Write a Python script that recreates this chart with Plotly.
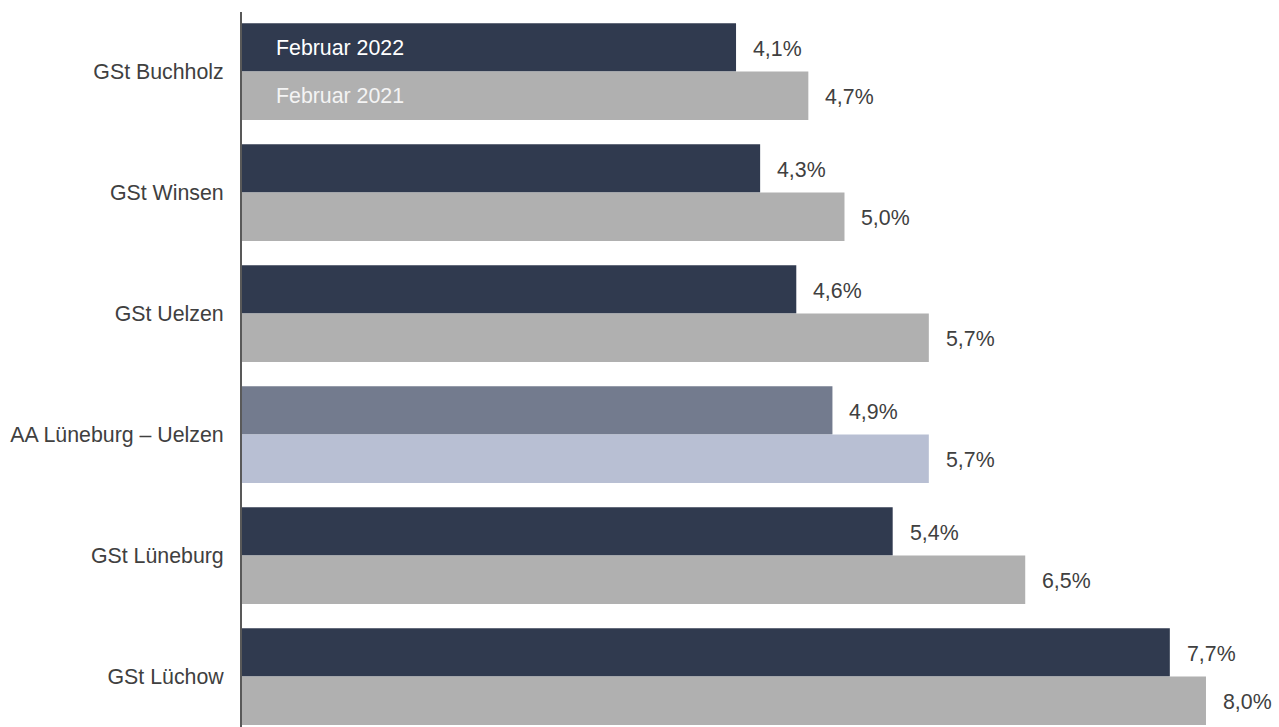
import plotly.graph_objects as go

categories = ["GSt Buchholz", "GSt Winsen", "GSt Uelzen", "AA Lüneburg – Uelzen", "GSt Lüneburg", "GSt Lüchow"]
values_2022 = [4.1, 4.3, 4.6, 4.9, 5.4, 7.7]
values_2021 = [4.7, 5.0, 5.7, 5.7, 6.5, 8.0]
series_names = ["Februar 2022", "Februar 2021"]
highlight = "AA Lüneburg – Uelzen"

DARK = "#303a4f"
GRAY = "#b0b0b0"
DARK_HL = "#737b8e"
LIGHT_HL = "#b8bfd3"
TXT = "#404040"
FONT = "Liberation Sans, Arial, sans-serif"
FS = 21.33

def fmt(v):
    return f"{v:.1f}".replace(".", ",") + "%"

c22 = [DARK_HL if c == highlight else DARK for c in categories]
c21 = [LIGHT_HL if c == highlight else GRAY for c in categories]

fig = go.Figure()
fig.add_trace(go.Bar(y=categories, x=values_2022, orientation="h", name=series_names[0],
                     marker=dict(color=c22, line=dict(width=0)), width=0.4, offset=0,
                     hoverinfo="skip"))
fig.add_trace(go.Bar(y=categories, x=values_2021, orientation="h", name=series_names[1],
                     marker=dict(color=c21, line=dict(width=0)), width=0.4, offset=-0.4,
                     hoverinfo="skip"))

ann = []
for c, v22, v21 in zip(categories, values_2022, values_2021):
    ann.append(dict(x=v22, y=c, xref="x", yref="y", text=fmt(v22), showarrow=False,
                    xanchor="left", yanchor="middle", xshift=15, yshift=23,
                    font=dict(family=FONT, size=FS, color=TXT)))
    ann.append(dict(x=v21, y=c, xref="x", yref="y", text=fmt(v21), showarrow=False,
                    xanchor="left", yanchor="middle", xshift=15, yshift=-25,
                    font=dict(family=FONT, size=FS, color=TXT)))
ann.append(dict(x=0, y=categories[0], xref="x", yref="y", text=series_names[0], showarrow=False,
                xanchor="left", yanchor="middle", xshift=32, yshift=24,
                font=dict(family=FONT, size=FS, color="#ffffff")))
ann.append(dict(x=0, y=categories[0], xref="x", yref="y", text=series_names[1], showarrow=False,
                xanchor="left", yanchor="middle", xshift=32, yshift=-24,
                font=dict(family=FONT, size=FS, color="#f4f4f4")))

fig.update_layout(
    width=1279, height=727,
    margin=dict(l=242, r=0, t=12, b=0, pad=0),
    paper_bgcolor="white", plot_bgcolor="white",
    showlegend=False, barmode="group",
    annotations=ann,
    font=dict(family=FONT, size=FS, color=TXT),
    xaxis=dict(range=[0, 8.606], showgrid=False, zeroline=False, showticklabels=False,
               showline=False, ticks=""),
    yaxis=dict(categoryorder="array", categoryarray=categories[::-1],
               range=[-0.417, 5.492], showgrid=False, zeroline=False,
               showline=True, linecolor="#595959", linewidth=2,
               ticks="", ticklabelstandoff=12,
               tickfont=dict(family=FONT, size=FS, color=TXT)),
)

fig.write_html("out.html", config={"displayModeBar": False, "staticPlot": True},
               post_script="document.body.style.margin='0';document.body.style.overflow='hidden';")
